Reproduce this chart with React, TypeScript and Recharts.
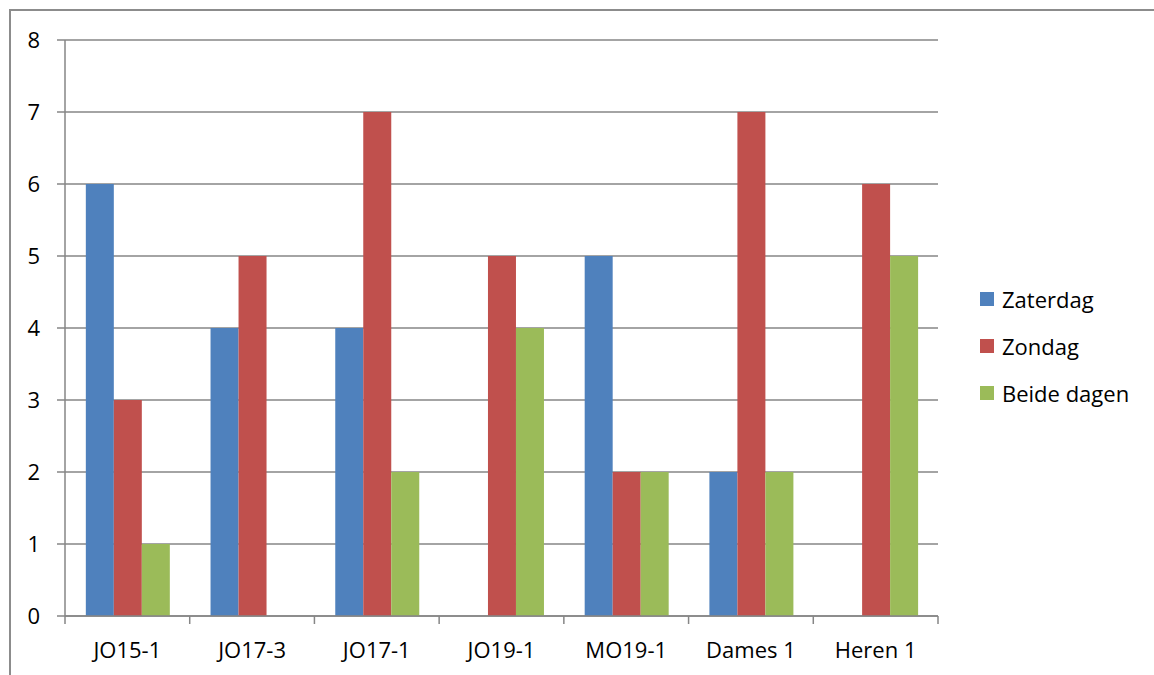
import React from "react";
import { BarChart, Bar, XAxis, YAxis, CartesianGrid } from "recharts";

const categories = ["JO15-1", "JO17-3", "JO17-1", "JO19-1", "MO19-1", "Dames 1", "Heren 1"];
const zaterdag = [6, 4, 4, 0, 5, 2, 0];
const zondag = [3, 5, 7, 5, 2, 7, 6];
const beideDagen = [1, 0, 2, 4, 2, 2, 5];
const yTicks = [0, 1, 2, 3, 4, 5, 6, 7, 8];

const seriesNames = ["Zaterdag", "Zondag", "Beide dagen"];
const colors = ["#4F81BD", "#C0504D", "#9BBB59"];

const data = categories.map((c, i) => ({
  name: c,
  Zaterdag: zaterdag[i],
  Zondag: zondag[i],
  "Beide dagen": beideDagen[i],
}));

const FONT = "'Open Sans', sans-serif";
const GRID = "#868686";
const W = 1154;
const H = 675;
const PLOT_LEFT = 65;
const PLOT_RIGHT = 938;
const PLOT_TOP = 40;
const PLOT_BOTTOM = 616;
const BAND = (PLOT_RIGHT - PLOT_LEFT) / categories.length;

const XTick = (props: any) => {
  const { x, payload, index } = props;
  return (
    <g>
      <line x1={x - BAND / 2} y1={PLOT_BOTTOM} x2={x - BAND / 2} y2={PLOT_BOTTOM + 8} stroke={GRID} strokeWidth={1.5} />
      {index === categories.length - 1 && (
        <line x1={x + BAND / 2} y1={PLOT_BOTTOM} x2={x + BAND / 2} y2={PLOT_BOTTOM + 8} stroke={GRID} strokeWidth={1.5} />
      )}
      <text x={x} y={658} textAnchor="middle" fill="#000" fontSize={22} fontFamily={FONT}>
        {payload.value}
      </text>
    </g>
  );
};

const LegendBox = () => (
  <div style={{ position: "absolute", left: 980, top: 275, fontFamily: FONT, fontSize: 22, color: "#000" }}>
    {seriesNames.map((s, i) => (
      <div key={s} style={{ display: "flex", alignItems: "center", height: 47 }}>
        <span style={{ width: 14, height: 14, background: colors[i], display: "inline-block", marginRight: 8 }} />
        <span>{s}</span>
      </div>
    ))}
  </div>
);

export default function App() {
  return (
    <div style={{ position: "absolute", left: 0, top: 0, width: W, height: H, background: "#fff", overflow: "hidden" }}>
      <div
        style={{
          position: "absolute",
          left: 9,
          top: 9,
          width: W,
          height: H,
          borderTop: "2px solid #8c8c8c",
          borderLeft: "2px solid #8c8c8c",
        }}
      />
      <div style={{ position: "absolute", left: 0, top: 0 }}>
        <BarChart
          width={W}
          height={H}
          data={data}
          margin={{ top: PLOT_TOP, right: W - PLOT_RIGHT, bottom: 0, left: 0 }}
          barCategoryGap="16.7%"
          barGap={0}
        >
          <CartesianGrid horizontal vertical={false} stroke={GRID} strokeWidth={1.5} strokeOpacity={1} />
          <XAxis
            dataKey="name"
            height={H - PLOT_BOTTOM}
            axisLine={{ stroke: GRID, strokeWidth: 1.5 }}
            tickLine={false}
            tick={<XTick />}
            interval={0}
          />
          <YAxis
            width={PLOT_LEFT}
            domain={[0, 8]}
            ticks={yTicks}
            interval={0}
            axisLine={{ stroke: GRID, strokeWidth: 1.5 }}
            tickLine={{ stroke: GRID, strokeWidth: 1.5 }}
            tickSize={8}
            tickMargin={17}
            tick={{ fill: "#000", fontSize: 22, fontFamily: FONT }}
          />
          {seriesNames.map((s, i) => (
            <Bar key={s} dataKey={s} fill={colors[i]} isAnimationActive={false} />
          ))}
        </BarChart>
      </div>
      <LegendBox />
    </div>
  );
}
